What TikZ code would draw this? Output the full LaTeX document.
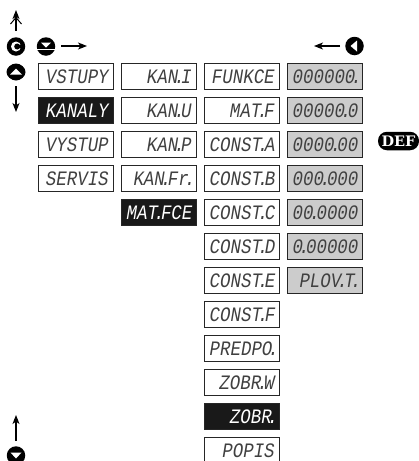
\documentclass[tikz,border=0pt]{standalone}
\usepackage{fontspec}
\setmainfont{Liberation Sans}
\newfontfamily\segfont[FakeStretch=0.85]{Liberation Mono}
\newfontfamily\deffont{DejaVu Serif}
\usetikzlibrary{arrows.meta}
\newcommand{\dt}{\kern-4pt.\kern-3.5pt}
\tikzset{
  x=1pt,y=-1pt,
  dbox/.style={xshift=0.7pt,draw=black!85,line width=1.1pt,minimum height=25.5pt,minimum width=75pt,inner xsep=2pt,inner ysep=0pt,
    text width=65pt,align=right,text height=13pt,text depth=0pt,font=\segfont\itshape\fontsize{20.5}{21}\selectfont,text=black!75},
  wbox/.style={dbox,fill=white},
  kbox/.style={dbox,fill=black!90,text=white},
  gbox/.style={dbox,fill=black!20},
  icon/.style={circle,fill=black,minimum size=18.5pt,inner sep=0pt},
  arr/.style={line width=1.1pt,-{Stealth[length=9pt,width=7pt,inset=2.5pt]}},
  glyph/.style={fill=white,draw=none}
}
\begin{document}
\begin{tikzpicture}
\useasboundingbox (0,0) rectangle (419,461);
% column 1
\node[wbox] (a1) at (75.5,76.5) {VSTUPY};
\node[kbox] (a2) at (75.5,110.5) {KANALY};
\node[wbox] (a3) at (75.5,144.5) {VYSTUP};
\node[wbox] (a4) at (75.5,178.5) {SERVIS};
% column 2
\node[wbox] (b1) at (158.5,76.5) {KAN\dt I};
\node[wbox] (b2) at (158.5,110.5) {KAN\dt U};
\node[wbox] (b3) at (158.5,144.5) {KAN\dt P};
\node[wbox] (b4) at (158.5,178.5) {KAN\dt Fr\dt};
\node[kbox] (b5) at (158.5,212.5) {MAT\dt FCE};
% column 3
\node[wbox] (c1) at (241.5,76.5) {FUNKCE};
\node[wbox] (c2) at (241.5,110.5) {MAT\dt F};
\node[wbox] (c3) at (241.5,144.5) {CONST\dt A};
\node[wbox] (c4) at (241.5,178.5) {CONST\dt B};
\node[wbox] (c5) at (241.5,212.5) {CONST\dt C};
\node[wbox] (c6) at (241.5,246.5) {CONST\dt D};
\node[wbox] (c7) at (241.5,280.5) {CONST\dt E};
\node[wbox] (c8) at (241.5,314.5) {CONST\dt F};
\node[wbox] (c9) at (241.5,348.5) {PREDPO\dt};
\node[wbox] (c10) at (241.5,382.5) {ZOBR\dt W};
\node[kbox] (c11) at (241.5,416.5) {ZOBR\dt};
\node[wbox] (c12) at (241.5,450.5) {POPIS};
% column 4
\node[gbox] (d1) at (324.5,76.5) {000000\dt};
\node[gbox] (d2) at (324.5,110.5) {00000\dt 0};
\node[gbox] (d3) at (324.5,144.5) {0000\dt 00};
\node[gbox] (d4) at (324.5,178.5) {000\dt 000};
\node[gbox] (d5) at (324.5,212.5) {00\dt 0000};
\node[gbox] (d6) at (324.5,246.5) {0\dt 00000};
\node[gbox] (d7) at (324.5,280.5) {PLOV\dt T\dt};
% icons
\node[icon] (ic) at (16,46.5) {};
\fill[glyph] (ic.center) circle (5pt);
\fill[black] (ic.center) ++(1.2,0) circle (3pt);
\fill[black] (ic.center) ++(2,-1.3) rectangle ++(3.4,2.6);
\node[icon] (id) at (46,46.5) {};
\fill[glyph] (id.center) ++(-5,-4) -- ++(10,0) -- ++(-5,5) -- cycle;
\fill[glyph] (id.center) ++(-9.5,2.2) rectangle ++(19,1.4);
\node[icon,minimum size=17pt] (iu) at (16,72) {};
\fill[black] (iu.center) ellipse (9.5pt and 8pt);
\fill[glyph] (iu.center) ++(-6,2.5) -- ++(12,0) -- ++(-6,-6) -- cycle;
\node[icon] (il) at (354.5,46) {};
\fill[glyph] (il.center) ++(2.5,-5.5) -- ++(0,11) -- ++(-6.5,-5.5) -- cycle;
\node[icon] (ib) at (16,455.5) {};
\fill[glyph] (ib.center) ++(-5.5,-3) -- ++(11,0) -- ++(-5.5,6) -- cycle;
\node[fill=black,rounded corners=9pt,minimum width=41pt,minimum height=18.5pt,inner sep=0pt,text=white,font=\deffont\bfseries\fontsize{14.5}{14.5}\selectfont] (def) at (398.5,141) {DEF};
% arrows
\coordinate (t1) at (16,10);
\coordinate (t2) at (87,46);
\coordinate (t3) at (16,112);
\coordinate (t4) at (314,46);
\coordinate (t5) at (16,415);
\draw[arr] (16,31) -- (t1);
\draw[line width=1pt] (10.5,24) -- (16,17.5) -- (21.5,24);
\draw[arr] (61,46) -- (t2);
\draw[arr] (16,86) -- (t3);
\draw[arr] (340,46) -- (t4);
\draw[arr] (16,441) -- (t5);
\end{tikzpicture}
\end{document}
